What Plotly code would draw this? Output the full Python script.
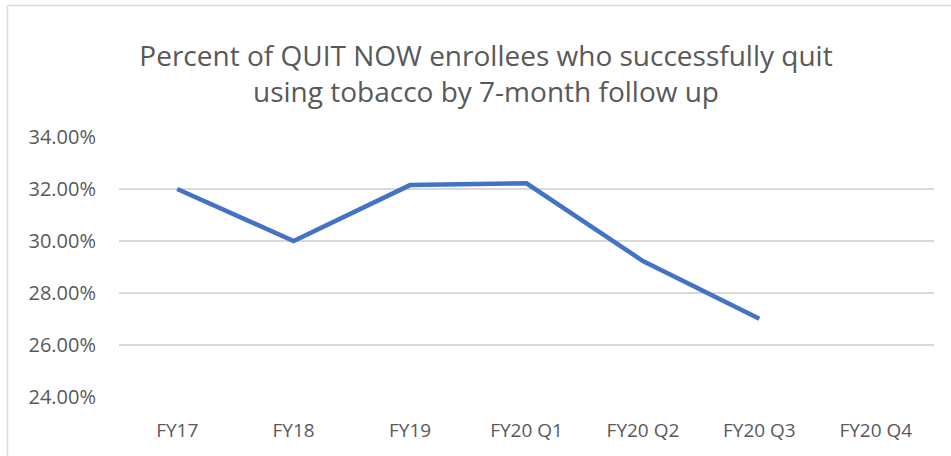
import plotly.graph_objects as go

categories = ["FY17", "FY18", "FY19", "FY20 Q1", "FY20 Q2", "FY20 Q3", "FY20 Q4"]
values = [0.32, 0.30, 0.3215, 0.3222, 0.2923, 0.2701, None]
y_ticks = [0.24, 0.26, 0.28, 0.30, 0.32, 0.34]

title_text = "Percent of QUIT NOW enrollees who successfully quit<br>using tobacco by 7-month follow up"

fig = go.Figure()
fig.add_trace(go.Scatter(
    x=categories, y=values, mode="lines",
    line=dict(color="#4472C4", width=4.5),
    connectgaps=False, showlegend=False, hoverinfo="skip"))

W, H = 951, 456
L, R, T, B = 119, 17, 137, 59
pw, ph = W - L - R, H - T - B

def px_x(p):
    return (p - L) / pw

def px_y(p):
    return (H - B - p) / ph

fig.update_layout(
    width=W, height=H,
    margin=dict(l=L, r=R, t=T, b=B),
    paper_bgcolor="white", plot_bgcolor="white",
    title=dict(text=title_text, x=486 / W, xanchor="center", xref="container",
               y=1 - 66 / H, yanchor="middle", yref="container",
               font=dict(family="Open Sans, sans-serif", size=28, color="#595959")),
    xaxis=dict(type="category", categoryorder="array", categoryarray=categories,
               range=[-0.5, len(categories) - 0.5], showgrid=False, zeroline=False,
               showline=False, ticks="", ticklabelstandoff=20,
               tickfont=dict(family="Open Sans, sans-serif", size=19, color="#595959")),
    yaxis=dict(range=[0.24, 0.34], tickvals=y_ticks, tickformat=".2%",
               showgrid=True, gridcolor="#D9D9D9", gridwidth=1.5, zeroline=False,
               showline=False, ticks="", ticklabelstandoff=22,
               tickfont=dict(family="Open Sans, sans-serif", size=20, color="#595959")),
    shapes=[
        dict(type="line", xref="paper", yref="paper", x0=px_x(7.5), x1=px_x(7.5),
             y0=px_y(5.5), y1=px_y(470), line=dict(color="#D9D9D9", width=1.5)),
        dict(type="line", xref="paper", yref="paper", x0=px_x(7.5), x1=px_x(960),
             y0=px_y(5.5), y1=px_y(5.5), line=dict(color="#D9D9D9", width=1.5)),
    ],
)

fig.write_html("out.html", config={"displayModeBar": False},
               post_script="document.body.style.margin='0';document.body.style.padding='0';")
